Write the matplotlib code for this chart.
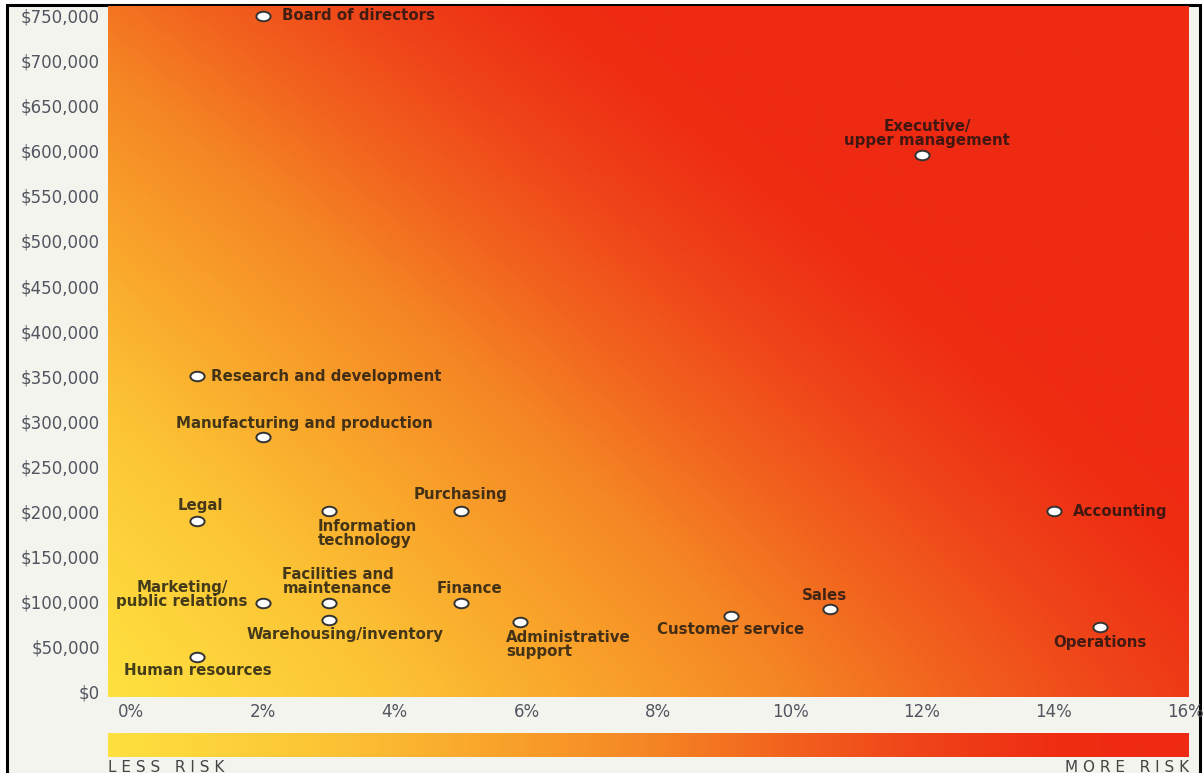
import numpy as np
import matplotlib
matplotlib.use('Agg')
import matplotlib.pyplot as plt
from matplotlib.colors import LinearSegmentedColormap
from matplotlib.path import Path
from matplotlib.patches import Rectangle
from matplotlib.ticker import FuncFormatter

# departments, share of fraud cases (%) and median loss ($)
departments = ['Board of directors', 'Executive/\nupper management', 'Research and development',
               'Manufacturing and production', 'Legal', 'Information\ntechnology', 'Purchasing',
               'Accounting', 'Marketing/\npublic relations', 'Facilities and\nmaintenance',
               'Warehousing/inventory', 'Finance', 'Administrative\nsupport', 'Customer service',
               'Sales', 'Operations', 'Human resources']
pct_cases = [2.0, 12.0, 1.0, 2.0, 1.0, 3.0, 5.0, 14.0, 2.0, 3.0, 3.0, 5.0, 5.9, 9.1, 10.6, 14.7, 1.0]
median_loss = [750000, 595000, 350000, 282000, 189000, 200000, 200000, 200000,
               98000, 98000, 79000, 98000, 77000, 84000, 91000, 71000, 38000]

x_ticks = [0, 2, 4, 6, 8, 10, 12, 14, 16]
y_ticks = list(range(0, 750001, 50000))

# label placement: dx, dy (pixels), ha, va
label_pos = [(19, 0, 'left', 'center'), (5, 7, 'center', 'bottom'), (14, 0, 'left', 'center'),
             (41, 6, 'center', 'bottom'), (3, 8, 'center', 'bottom'), (-11, -8, 'left', 'top'),
             (0, 9, 'center', 'bottom'), (19, 0, 'left', 'center'), (-15, -6, 'right', 'bottom'),
             (9, 7, 'center', 'bottom'), (16, -7, 'center', 'top'), (9, 7, 'center', 'bottom'),
             (-14, -8, 'left', 'top'), (0, -6, 'center', 'top'), (-5, 6, 'center', 'bottom'),
             (0, -8, 'center', 'top'), (1, -6, 'center', 'top')]

XLIM = (-0.35, 16.05)
YLIM = (-6500, 761000)

risk = LinearSegmentedColormap.from_list('risk', [
    (0.0, '#fee03f'), (0.2, '#fcc435'), (0.35, '#f9a52b'), (0.5, '#f58624'),
    (0.62, '#f2641e'), (0.75, '#ef4419'), (0.88, '#ee2d13'), (1.0, '#ee2a12')])

W, H = 1204, 773
fig = plt.figure(figsize=(W / 100, H / 100), dpi=100)
fig.patch.set_facecolor('white')
fig.patches.append(Rectangle((7 / W, -0.05), (1200 - 7) / W, 1.05 - 5 / H, transform=fig.transFigure,
                             facecolor='#f4f4ee', edgecolor='black', linewidth=2.2, zorder=-10))

ax = fig.add_axes([108 / W, (H - 697) / H, (1189 - 108) / W, (697 - 6) / H])
ax.set_xlim(*XLIM)
ax.set_ylim(*YLIM)

# diagonal risk gradient behind the points
gx = np.linspace(XLIM[0], XLIM[1], 400)
gy = np.linspace(YLIM[0], YLIM[1], 300)
GX, GY = np.meshgrid(gx, gy)
yn = np.clip(GY / YLIM[1], 0, 1)
t = 0.8 * (GX - XLIM[0]) / (XLIM[1] - XLIM[0]) + 0.56 * yn ** 1.15
ax.imshow(np.clip(t, 0, 1), cmap=risk, vmin=0, vmax=1, origin='lower', aspect='auto',
          extent=(XLIM[0], XLIM[1], YLIM[0], YLIM[1]), interpolation='bilinear', zorder=0)

# flattened ellipse marker
circ = Path.unit_circle()
ellipse = Path(circ.vertices * np.array([1.5, 1.0]), circ.codes)
ax.scatter(pct_cases, median_loss, marker=ellipse, s=105, facecolor='white',
           edgecolor='#333333', linewidth=1.4, zorder=3)

for name, xv, yv, (dx, dy, ha, va) in zip(departments, pct_cases, median_loss, label_pos):
    ax.annotate(name, (xv, yv), xytext=(dx, dy), textcoords='offset pixels', ha=ha, va=va,
                multialignment='left' if ha == 'left' else 'center', fontsize=10.8,
                fontweight='bold', color='#111111', alpha=0.78, linespacing=0.95, zorder=4)

ax.set_xticks(x_ticks)
ax.set_yticks(y_ticks)
ax.xaxis.set_major_formatter(FuncFormatter(lambda v, p: f'{v:.0f}%'))
ax.yaxis.set_major_formatter(FuncFormatter(lambda v, p: f'${v:,.0f}'))
ax.tick_params(length=0, labelsize=12, labelcolor='#505560')
ax.tick_params(axis='y', pad=6)
ax.tick_params(axis='x', pad=4)
for s in ax.spines.values():
    s.set_visible(False)

# risk scale bar
cax = fig.add_axes([108 / W, (H - 757) / H, (1189 - 108) / W, 24 / H])
cax.imshow(np.linspace(0, 1, 500)[None, :], cmap=risk, aspect='auto', extent=(0, 1, 0, 1))
cax.set_axis_off()
fig.text(108 / W, (H - 767) / H, 'L E S S   R I S K', fontsize=11, color='#444444',
         ha='left', va='center')
fig.text(1189 / W, (H - 767) / H, 'M O R E   R I S K', fontsize=11, color='#444444',
         ha='right', va='center')

fig.savefig('out.png', dpi=100)
